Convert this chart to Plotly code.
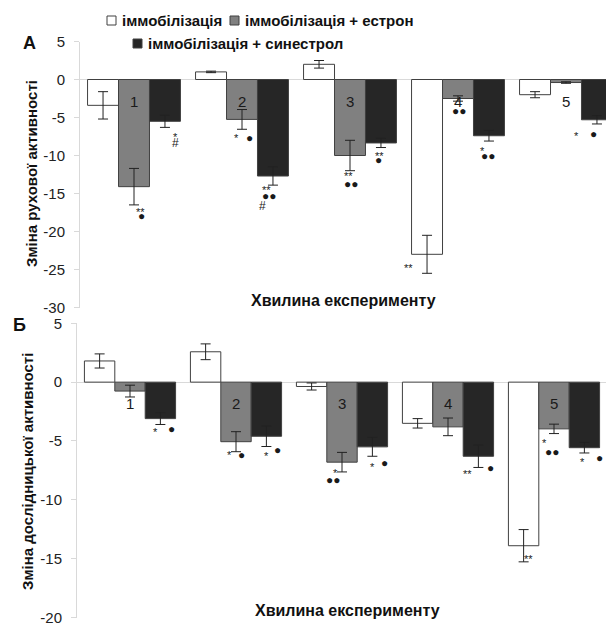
import plotly.graph_objects as go

W, H = 606, 626

minutes = [1, 2, 3, 4, 5]
series_names = ["іммобілізація", "іммобілізація + естрон", "іммобілізація + синестрол"]

# Panel A: change of motor activity
motor_imm = [-3.4, 1.0, 2.0, -23.0, -2.0]
motor_imm_err = [1.8, 0.1, 0.5, 2.5, 0.4]
motor_estr = [-14.1, -5.25, -10.0, -2.5, -0.4]
motor_estr_err = [2.4, 1.3, 2.0, 0.35, 0.1]
motor_syn = [-5.5, -12.7, -8.35, -7.4, -5.3]
motor_syn_err = [0.8, 1.2, 0.6, 0.7, 0.55]

# Panel B: change of exploratory activity
expl_imm = [1.8, 2.58, -0.37, -3.5, -13.9]
expl_imm_err = [0.6, 0.67, 0.3, 0.4, 1.37]
expl_estr = [-0.76, -5.06, -6.8, -3.8, -3.97]
expl_estr_err = [0.5, 0.85, 0.83, 0.75, 0.4]
expl_syn = [-3.1, -4.6, -5.5, -6.3, -5.57]
expl_syn_err = [0.5, 0.87, 0.8, 0.95, 0.45]

motor_ticks = [5, 0, -5, -10, -15, -20, -25, -30]
expl_ticks = [5, 0, -5, -10, -15, -20]
group_boundaries = [1.5, 2.5, 3.5, 4.5]

# significance marks: (minute, offset within group, y value, text)
motor_marks = [
    (1, 0.06, -16.9, "**"), (1, 0.065, -17.9, "●"),
    (1, 0.38, -7.1, "*"), (1, 0.38, -8.4, "#"),
    (2, -0.05, -7.2, "*"), (2, 0.065, -7.66, "●"),
    (2, 0.23, -14.0, "**"), (2, 0.25, -15.3, "●●"), (2, 0.19, -16.7, "#"),
    (3, -0.01, -12.2, "**"), (3, 0.01, -13.8, "●●"),
    (3, 0.27, -9.5, "**"), (3, 0.26, -10.6, "●"),
    (4, -0.46, -24.3, "**"), (4, 0.01, -4.1, "●●"),
    (4, 0.23, -8.9, "*"), (4, 0.28, -10.1, "●●"),
    (5, 0.10, -6.9, "*"), (5, 0.25, -7.2, "●"),
]
expl_marks = [
    (1, 0.24, -3.9, "*"), (1, 0.39, -4.0, "●"),
    (2, -0.06, -5.86, "*"), (2, 0.05, -6.2, "●"),
    (2, 0.29, -5.93, "*"), (2, 0.39, -5.77, "●"),
    (3, -0.06, -7.4, "*"), (3, -0.08, -8.3, "●●"),
    (3, 0.29, -6.84, "*"), (3, 0.40, -6.84, "●"),
    (4, 0.18, -7.46, "**"), (4, 0.40, -7.26, "●"),
    (5, -0.24, -14.7, "**"), (5, -0.085, -4.87, "*"), (5, -0.01, -5.9, "●●"),
    (5, 0.27, -6.45, "*"), (5, 0.43, -6.45, "●"),
]

FONT = "Arial, Liberation Sans, sans-serif"
colors = ["#ffffff", "#808080", "#262626"]
TXT = "#1a1a1a"
AXIS_GRAY = "#d9d9d9"


def px(x):
    return x / W


def py(y):
    return 1 - y / H


fig = go.Figure()

panels = [
    ("x", "y", [motor_imm, motor_estr, motor_syn], [motor_imm_err, motor_estr_err, motor_syn_err]),
    ("x2", "y2", [expl_imm, expl_estr, expl_syn], [expl_imm_err, expl_estr_err, expl_syn_err]),
]
for xa, ya, vals, errs in panels:
    for name, v, e, c in zip(series_names, vals, errs, colors):
        fig.add_trace(go.Bar(
            x=minutes, y=v, name=name, xaxis=xa, yaxis=ya, showlegend=False,
            marker=dict(color=c, line=dict(color="#404040", width=1)),
            error_y=dict(type="data", array=e, visible=True, color="#222222",
                         thickness=1, width=5),
        ))

yaxis_common = dict(
    showline=True, linecolor=AXIS_GRAY, linewidth=1, ticks="outside",
    tickcolor=AXIS_GRAY, ticklen=5, showgrid=False, zeroline=True,
    zerolinecolor=AXIS_GRAY, zerolinewidth=1, tickmode="array",
    tickfont=dict(family=FONT, size=15, color="#222222"),
    ticklabelstandoff=6, ticklabeloverflow="allow",
)
xaxis_common = dict(showline=False, showgrid=False, zeroline=False,
                    showticklabels=False, ticks="")
# category boundary ticks drawn on the zero line
zero_tick_axis = dict(showline=False, showgrid=False, zeroline=False, showticklabels=False,
                      ticks="outside", ticklen=4, tickcolor=AXIS_GRAY, tickmode="array",
                      tickvals=group_boundaries, anchor="free")

rangeA = [0.5, 0.5 + 526 / 108]
rangeB = [0.5, 0.5 + 529 / 106]
fig.update_layout(
    width=W, height=H,
    margin=dict(l=0, r=0, t=0, b=0, pad=0, autoexpand=False),
    paper_bgcolor="white", plot_bgcolor="white",
    barmode="group", bargap=0.14, bargroupgap=0,
    showlegend=False,
    xaxis=dict(domain=[px(80), 1], range=rangeA, anchor="y", **xaxis_common),
    yaxis=dict(domain=[py(307.5), py(41.5)], range=[-30, 5], anchor="x",
               tickvals=motor_ticks, ticktext=[str(t) for t in motor_ticks], **yaxis_common),
    xaxis2=dict(domain=[px(77), 1], range=rangeB, anchor="y2", **xaxis_common),
    yaxis2=dict(domain=[py(617.5), py(323.3)], range=[-20, 5], anchor="x2",
                tickvals=expl_ticks, ticktext=[str(t) for t in expl_ticks], **yaxis_common),
    xaxis3=dict(domain=[px(80), 1], range=rangeA, overlaying="x", position=py(79.5),
                **zero_tick_axis),
    xaxis4=dict(domain=[px(77), 1], range=rangeB, overlaying="x2", position=py(382.1),
                **zero_tick_axis),
)

ann = []
# minute numbers inside the bars
for m in minutes:
    ann.append(dict(x=m, y=-2.9, xref="x", yref="y", text=str(m), showarrow=False,
                    xanchor="center", yanchor="middle",
                    font=dict(family=FONT, size=15, color=TXT)))
    ann.append(dict(x=m, y=-1.83, xref="x2", yref="y2", text=str(m), showarrow=False,
                    xanchor="center", yanchor="middle",
                    font=dict(family=FONT, size=15, color=TXT)))

for marks, xr, yr in [(motor_marks, "x", "y"), (expl_marks, "x2", "y2")]:
    for m, dx, yv, t in marks:
        star = "*" in t
        ann.append(dict(x=m + dx, y=yv, xref=xr, yref=yr, text=t, showarrow=False,
                        xanchor="center", yanchor="middle",
                        yshift=-4 if star else 0,
                        font=dict(family=FONT, size=11 if star else 12, color=TXT)))


def paper_text(x, y, text, size, angle=0, anchor="center"):
    ann.append(dict(x=px(x), y=py(y), xref="paper", yref="paper", text=text,
                    textangle=angle, showarrow=False, xanchor=anchor, yanchor="middle",
                    font=dict(family=FONT, size=size, color="#111111", weight="bold")))


# panel letters
paper_text(29, 43, "А", 18)
paper_text(19, 325, "Б", 18)

# axis titles
paper_text(32, 174, "Зміна рухової активності", 15, angle=-90)
paper_text(27, 472, "Зміна дослідницької активності", 15, angle=-90)
paper_text(343, 300, "Хвилина експерименту", 16)
paper_text(347, 610, "Хвилина експерименту", 16)

# manual legend
legend_items = [(107, 20.5, 0), (230, 20.5, 1), (133, 43.5, 2)]
shapes = []
for lx, ly, i in legend_items:
    shapes.append(dict(type="rect", xref="paper", yref="paper",
                       x0=px(lx), x1=px(lx + 9), y0=py(ly + 4.5), y1=py(ly - 4.5),
                       fillcolor=colors[i], line=dict(color="#404040", width=1)))
    paper_text(lx + 13, ly, series_names[i], 15, anchor="left")

fig.update_layout(annotations=ann, shapes=shapes)
fig.write_html("out.html")
